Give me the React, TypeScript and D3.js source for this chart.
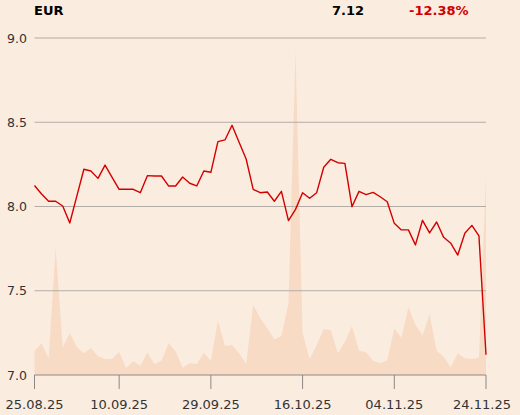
import React from "react";
import * as d3 from "d3";

const currency = "EUR";
const lastPrice = "7.12";
const changeText = "-12.38%";

const prices = [
  8.125, 8.074, 8.031, 8.031, 8.003, 7.902, 8.062, 8.221, 8.211, 8.167,
  8.246, 8.173, 8.102, 8.102, 8.102, 8.082, 8.183, 8.181, 8.181, 8.122,
  8.122, 8.175, 8.138, 8.122, 8.211, 8.203, 8.385, 8.395, 8.482, 8.381,
  8.282, 8.102, 8.082, 8.086, 8.031, 8.09, 7.916, 7.983, 8.082, 8.049,
  8.082, 8.233, 8.28, 8.26, 8.256, 7.999, 8.09, 8.07, 8.084, 8.058,
  8.028, 7.9, 7.861, 7.861, 7.772, 7.918, 7.843, 7.908, 7.817, 7.782,
  7.712, 7.841, 7.888, 7.825, 7.12,
];

const volumes = [
  24.3, 31.7, 16.7, 127.7, 27.7, 42, 28.3, 21.7, 27, 18.7,
  16, 16, 23, 7, 14, 9.3, 22.7, 11, 14.3, 32,
  23.7, 7.3, 12, 11, 22.3, 14.3, 54.7, 29, 30, 21.7,
  11, 70.3, 56.7, 46.7, 35.7, 39, 71.7, 324.3, 42.3, 15.7,
  30, 45.7, 45, 21.7, 33.3, 49, 24.3, 22.7, 14.3, 11.7,
  14.7, 46.7, 37.3, 67.7, 50, 39.7, 60.7, 24.3, 18.3, 7.7,
  21.7, 16.7, 16, 17.3, 199,
];

const tickLabels = ["25.08.25", "10.09.25", "29.09.25", "16.10.25", "04.11.25", "24.11.25"];
const tickIndex = [0, 12, 25, 38, 51, 64];
const yTicks = [7.0, 7.5, 8.0, 8.5, 9.0];

const W = 520;
const H = 415;
const left = 34.5;
const right = 486;
const top = 38;
const bottom = 375;

export default function App() {
  const x = d3.scaleLinear().domain([0, prices.length - 1]).range([left, right]);
  const y = d3.scaleLinear().domain([7, 9]).range([bottom, top]);
  const yv = d3.scaleLinear().domain([0, (d3.max(volumes) as number) * 1.04]).range([bottom, top]);

  const line = d3
    .line<number>()
    .x((_, i) => x(i))
    .y((d) => y(d));
  const area = d3
    .area<number>()
    .x((_, i) => x(i))
    .y0(bottom)
    .y1((d) => yv(d));

  const font = "'DejaVu Sans', sans-serif";

  return (
    <svg
      width={W}
      height={H}
      style={{ position: "absolute", left: 0, top: 0, display: "block" }}
    >
      <rect x={0} y={0} width={W} height={H} fill="#fbece0" />
      <path d={area(volumes) || ""} fill="#f8dbc5" />
      {yTicks.slice(1).map((t) => (
        <line key={t} x1={left} x2={right} y1={y(t)} y2={y(t)} stroke="#b3aca6" strokeWidth={1} />
      ))}
      {yTicks.map((t) => (
        <text
          key={"l" + t}
          x={27}
          y={y(t)}
          textAnchor="end"
          dominantBaseline="central"
          fontFamily={font}
          fontSize={12.5}
          fill="#333"
        >
          {t.toFixed(1)}
        </text>
      ))}
      <line x1={left} x2={right} y1={bottom} y2={bottom} stroke="#8c8884" strokeWidth={1} />
      {tickIndex.map((ti, k) => (
        <g key={ti}>
          <line x1={x(ti)} x2={x(ti)} y1={bottom} y2={bottom + 14} stroke="#8c8884" strokeWidth={1} />
          <text
            x={k === tickIndex.length - 1 ? Math.min(x(ti), W - 38) : x(ti)}
            y={409}
            textAnchor="middle"
            fontFamily={font}
            fontSize={13}
            fill="#333"
          >
            {tickLabels[k]}
          </text>
        </g>
      ))}
      <path d={line(prices) || ""} fill="none" stroke="#d30000" strokeWidth={1.4} strokeLinejoin="round" />
      <text x={34} y={15} fontFamily={font} fontWeight="bold" fontSize={13} fill="#000">
        {currency}
      </text>
      <text x={332} y={15} fontFamily={font} fontWeight="bold" fontSize={13} fill="#000">
        {lastPrice}
      </text>
      <text x={409} y={15} fontFamily={font} fontWeight="bold" fontSize={13} fill="#d00000">
        {changeText}
      </text>
    </svg>
  );
}
